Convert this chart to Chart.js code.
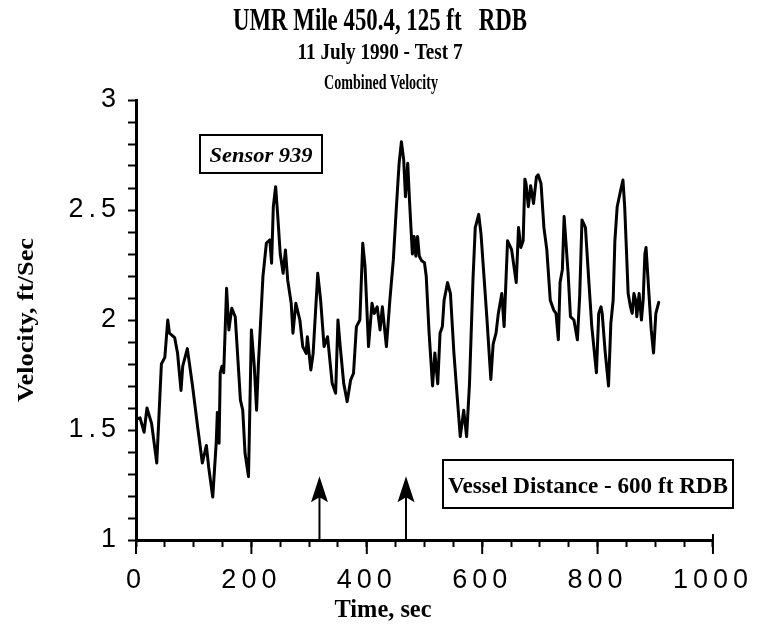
<!DOCTYPE html>
<html>
<head>
<meta charset="utf-8">
<script src="https://cdn.jsdelivr.net/npm/chart.js@4.4.1/dist/chart.umd.min.js"></script>
<style>
  html, body { margin: 0; padding: 0; background: #fff; }
  #wrap { width: 760px; height: 638px; }
</style>
</head>
<body>
<div id="wrap"><canvas id="velocityChart" width="760" height="638"></canvas></div>
<script>
// Sensor 939 combined velocity
var timeSec = [0, 7, 14, 19, 27, 36, 44, 50, 55, 58, 67, 72, 78, 81, 89, 98, 107, 115, 122, 126,
    133, 139, 141, 144, 146, 149, 152, 157, 161, 166, 172, 181, 185, 189, 195, 200, 205, 209, 212, 220,
    226, 232, 235, 238, 242, 245, 250, 255, 259, 263, 269, 272, 277, 284, 289, 295, 297, 303, 307, 315,
    320, 326, 332, 340, 346, 350, 354, 360, 366, 372, 377, 382, 388, 393, 397, 403, 409, 413, 418, 423,
    427, 434, 440, 446, 451, 456, 460, 464, 467, 471, 474, 479, 482, 485, 488, 491, 495, 500, 503, 508,
    514, 518, 523, 527, 531, 534, 540, 545, 551, 557, 562, 568, 573, 578, 584, 588, 594, 598, 602, 608,
    615, 619, 624, 628, 634, 638, 644, 651, 659, 663, 667, 671, 674, 676, 680, 684, 689, 694, 697, 702,
    707, 712, 718, 724, 728, 732, 735, 739, 742, 745, 749, 753, 759, 765, 769, 773, 779, 785, 790, 798,
    802, 806, 808, 813, 819, 823, 827, 830, 834, 840, 844, 847, 850, 853, 857, 860, 863, 866, 868, 872,
    876, 879, 882, 884, 889, 893, 897, 901, 906];
var velocity = [1.55, 1.555, 1.49, 1.60, 1.53, 1.35, 1.80, 1.83, 2.00, 1.94, 1.92, 1.85, 1.68, 1.79, 1.87, 1.70, 1.51, 1.35, 1.43, 1.33,
    1.195, 1.44, 1.58, 1.44, 1.76, 1.79, 1.76, 2.144, 1.955, 2.053, 2.015, 1.636, 1.59, 1.394, 1.288, 1.955, 1.79, 1.59, 1.79, 2.197,
    2.35, 2.364, 2.258, 2.515, 2.606, 2.5, 2.30, 2.212, 2.318, 2.18, 2.076, 1.94, 2.076, 2.0, 1.879, 1.848, 1.924, 1.773, 1.848, 2.212,
    2.09, 1.879, 1.924, 1.712, 1.667, 2.0, 1.879, 1.712, 1.629, 1.727, 1.758, 1.97, 2.0, 2.349, 2.242, 1.879, 2.076, 2.03, 2.06, 1.955,
    2.06, 1.879, 2.09, 2.273, 2.5, 2.712, 2.81, 2.727, 2.56, 2.712, 2.545, 2.30, 2.38, 2.29, 2.38, 2.29, 2.27, 2.26, 2.20, 1.94,
    1.70, 1.85, 1.71, 1.94, 1.97, 2.09, 2.17, 2.12, 1.85, 1.64, 1.47, 1.59, 1.47, 1.71, 2.18, 2.42, 2.48, 2.39, 2.24, 2.015,
    1.73, 1.89, 1.94, 2.03, 2.12, 1.97, 2.36, 2.32, 2.17, 2.42, 2.33, 2.36, 2.64, 2.62, 2.515, 2.61, 2.53, 2.65, 2.66, 2.62,
    2.42, 2.32, 2.09, 2.045, 2.03, 1.91, 2.17, 2.23, 2.47, 2.36, 2.21, 2.015, 2.0, 1.91, 2.11, 2.455, 2.42, 2.17, 1.97, 1.76,
    2.03, 2.06, 2.03, 1.86, 1.70, 1.985, 2.09, 2.36, 2.515, 2.59, 2.636, 2.515, 2.32, 2.12, 2.06, 2.03, 2.12, 2.09, 2.015, 2.12,
    2.0, 2.09, 2.30, 2.33, 2.12, 1.955, 1.85, 2.03, 2.08];
var xTickLabels = [0, 200, 400, 600, 800, 1000];
var yTickLabels = [1, 1.5, 2, 2.5, 3];
var arrowTimes = [318, 468];

var SERIF = '"Liberation Serif", "Times New Roman", serif';

// draw a squeezed (condensed) text line to a given width
function squeezeText(ctx, text, x, y, font, width, vertical) {
    ctx.save();
    ctx.font = font;
    var w = ctx.measureText(text).width;
    ctx.translate(x, y);
    if (vertical) ctx.rotate(-Math.PI / 2);
    ctx.scale(width / w, 1);
    ctx.textAlign = 'center';
    ctx.textBaseline = 'alphabetic';
    ctx.fillStyle = '#000';
    ctx.fillText(text, 0, 0);
    ctx.restore();
}

function isLabelled(list, v) {
    return list.some(function(l) { return Math.abs(l - v) < 1e-6; });
}

var paperDecor = {
    id: 'paperDecor',
    beforeDraw: function(chart) {
        // wide spaced tick digits like the old plot
        chart.ctx.letterSpacing = '5px';
    },
    beforeDatasetsDraw: function(chart) {
        chart.ctx.letterSpacing = '0px';
    },
    afterDraw: function(chart) {
        var ctx = chart.ctx;
        var xs = chart.scales.x, ys = chart.scales.y;
        var base = ys.getPixelForValue(1);
        ctx.save();
        ctx.strokeStyle = '#000';
        ctx.fillStyle = '#000';

        // longer ticks at the labelled times
        ctx.lineWidth = 2;
        xTickLabels.forEach(function(t) {
            var px = xs.getPixelForValue(t);
            ctx.beginPath();
            ctx.moveTo(px, base);
            ctx.lineTo(px, base + 14);
            ctx.stroke();
        });
        var xEnd = xs.getPixelForValue(1000);
        ctx.beginPath();
        ctx.moveTo(xEnd, base - 6);
        ctx.lineTo(xEnd, base);
        ctx.stroke();

        // vessel passage arrows
        arrowTimes.forEach(function(t) {
            var px = xs.getPixelForValue(t);
            var tip = ys.getPixelForValue(1.29);
            ctx.lineWidth = 2;
            ctx.beginPath();
            ctx.moveTo(px, base);
            ctx.lineTo(px, tip + 18);
            ctx.stroke();
            ctx.beginPath();
            ctx.moveTo(px, tip);
            ctx.lineTo(px + 8.5, tip + 26);
            ctx.lineTo(px, tip + 21);
            ctx.lineTo(px - 8.5, tip + 26);
            ctx.closePath();
            ctx.fill();
        });

        // annotation boxes
        ctx.lineWidth = 2;
        ctx.strokeRect(200, 135, 122, 38);
        squeezeText(ctx, 'Sensor 939', 261, 162, 'italic bold 22px ' + SERIF, 103);
        ctx.strokeRect(443, 460, 290, 48);
        squeezeText(ctx, 'Vessel Distance - 600 ft RDB', 588, 493, 'bold 24px ' + SERIF, 280);

        // titles
        squeezeText(ctx, 'UMR Mile 450.4, 125 ft   RDB', 380, 30, 'bold 31px ' + SERIF, 294);
        squeezeText(ctx, '11 July 1990 - Test 7', 380, 59, 'bold 24px ' + SERIF, 165);
        squeezeText(ctx, 'Combined Velocity', 381, 89, 'bold 21px ' + SERIF, 114);

        // axis titles
        squeezeText(ctx, 'Velocity, ft/Sec', 33, 320, 'bold 24px ' + SERIF, 164, true);
        squeezeText(ctx, 'Time, sec', 383, 617, 'bold 25px ' + SERIF, 97);
        ctx.restore();
    }
};

var points = timeSec.map(function(t, i) { return { x: t, y: velocity[i] }; });

new Chart(document.getElementById('velocityChart').getContext('2d'), {
    type: 'line',
    data: { datasets: [{ label: 'Sensor 939', data: points,
        borderColor: '#000', borderWidth: 3, pointRadius: 0, tension: 0,
        borderJoinStyle: 'round', borderCapStyle: 'round', fill: false }] },
    options: {
        responsive: false, animation: false,
        layout: { padding: { top: 100, right: 39, left: 0, bottom: 0 } },
        plugins: { legend: { display: false }, tooltip: { enabled: false }, title: { display: false } },
        scales: {
            x: {
                type: 'linear', position: 'bottom', min: 0, max: 1000,
                afterFit: function(s) { s.height = 98; },
                border: { color: '#000', width: 3 },
                grid: { drawOnChartArea: false, drawTicks: true, tickLength: 7, tickColor: '#000', tickWidth: 2 },
                ticks: { stepSize: 50, autoSkip: false, maxRotation: 0, minRotation: 0, padding: 17, color: '#000',
                    font: { family: '"Liberation Sans", Arial, sans-serif', size: 27 },
                    callback: function(v) { return isLabelled(xTickLabels, v) ? String(v) : ''; } }
            },
            y: {
                type: 'linear', min: 1, max: 3,
                afterFit: function(s) { s.width = 136; },
                border: { color: '#000', width: 3 },
                grid: { drawOnChartArea: false, drawTicks: true, tickLength: 8, tickColor: '#000', tickWidth: 2 },
                ticks: { stepSize: 0.1, autoSkip: false, padding: 7, color: '#000',
                    font: { family: '"Liberation Sans", Arial, sans-serif', size: 27 },
                    callback: function(v) { return isLabelled(yTickLabels, v) ? String(v) : ''; } }
            }
        }
    },
    plugins: [paperDecor]
});
</script>
</body>
</html>
